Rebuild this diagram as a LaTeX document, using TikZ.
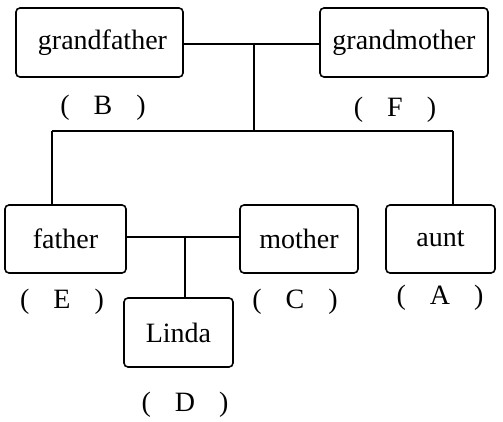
\documentclass[tikz,border=0pt]{standalone}
\usepackage{fontspec}
\setmainfont{Liberation Serif}
\newcommand{\ansgap}{\hspace{24pt}}
\begin{document}
\begin{tikzpicture}[x=1pt,y=-1pt,line width=1.6pt,
    person/.style={draw,rounded corners=4pt,inner sep=0pt,font=\fontsize{28}{32}\selectfont},
    mark label/.style={font=\fontsize{28}{32}\selectfont}]
        % Fix the page size
        \useasboundingbox (0,0) rectangle (503,422);
        % Grandparents
        \node[person,minimum width=167pt,minimum height=69pt] (grandfather) at (99.5,42.5) {\hspace{6pt}grandfather};
        \node[person,minimum width=168pt,minimum height=69pt] (grandmother) at (404,42.5) {grandmother};
        % Parents and aunt
        \node[person,minimum width=121pt,minimum height=68pt] (father) at (65.5,239) {father};
        \node[person,minimum width=118pt,minimum height=68pt] (mother) at (299,239) {mother};
        \node[person,minimum width=109pt,minimum height=68pt] (aunt) at (440.5,239) {aunt};
        % Child
        \node[person,minimum width=109pt,minimum height=69pt] (linda) at (178.5,332.5) {Linda};
        % Answer labels
        \node[mark label] (lblB) at (103,108) {(\ansgap B\ansgap)};
        \node[mark label] (lblF) at (395,110) {(\ansgap F\ansgap)};
        \node[mark label] (lblE) at (62,302) {(\ansgap E\ansgap)};
        \node[mark label] (lblC) at (295,302) {(\ansgap C\ansgap)};
        \node[mark label] (lblA) at (440,298) {(\ansgap A\ansgap)};
        \node[mark label] (lblD) at (185,405) {(\ansgap D\ansgap)};
        % Junction points
        \coordinate (gmid) at (254,44);
        \coordinate (gbar) at (254,131);
        \coordinate (fbar) at (52,131);
        \coordinate (abar) at (453,131);
        \coordinate (pmid) at (185,237);
        % Connectors
        \draw (grandfather.east |- gmid) -- (grandmother.west |- gmid);
        \draw (gmid) -- (gbar);
        \draw (fbar) -- (abar);
        \draw (fbar) -- (fbar |- father.north);
        \draw (abar) -- (abar |- aunt.north);
        \draw (father.east |- pmid) -- (mother.west |- pmid);
        \draw (pmid) -- (pmid |- linda.north);
    \end{tikzpicture}
\end{document}
